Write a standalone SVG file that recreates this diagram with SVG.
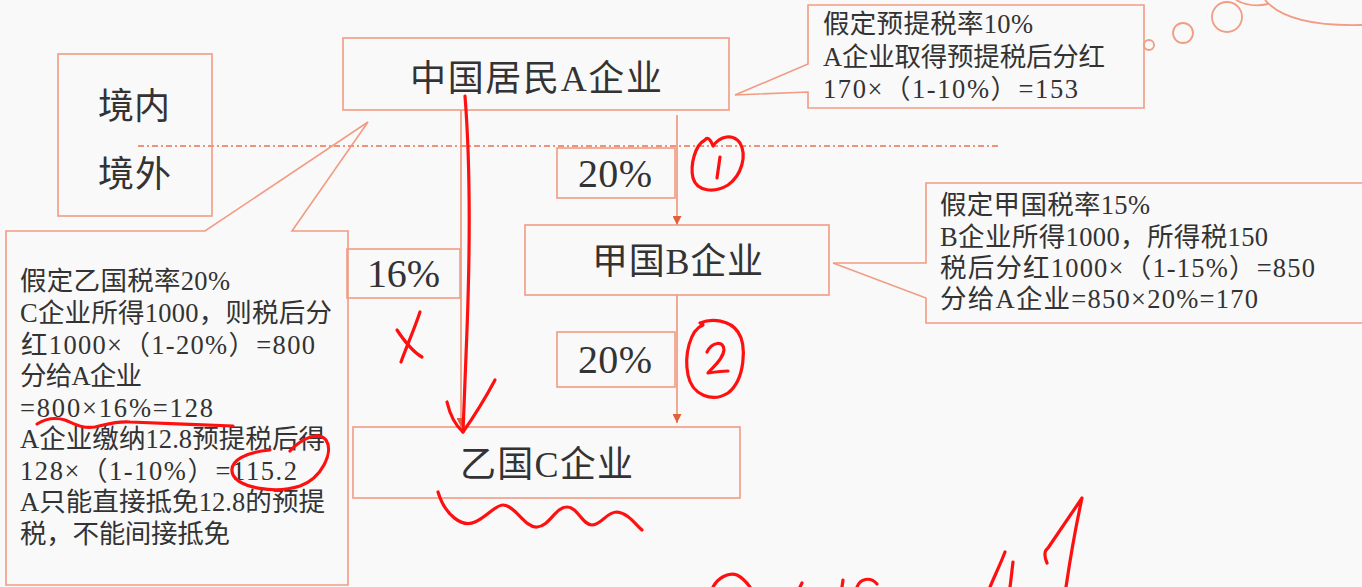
<svg xmlns="http://www.w3.org/2000/svg" width="1362" height="587" viewBox="0 0 1362 587">
<style>
.bx{fill:none;stroke:#f19c83;stroke-width:1.6}
.t{font-family:"Liberation Serif","Noto Sans CJK SC",serif;fill:#333}
.n{font-size:36px}
.p{font-size:40px}
.c{font-size:26.5px}
.conn{stroke:#ee8d70;stroke-width:1.5;fill:none}
.dash{stroke:#ef9378;stroke-width:1.8;stroke-dasharray:6 3 2 3;fill:none}
.pen{stroke:#ff1010;stroke-width:3.2;fill:none;stroke-linecap:round;stroke-linejoin:round}
</style>
<defs>
<marker id="ah" markerUnits="userSpaceOnUse" markerWidth="9" markerHeight="9" refX="9" refY="4.5" orient="auto">
<path d="M0,0 L9,4.5 L0,9 Z" fill="#e2603a"/>
</marker>
</defs>
<rect x="0" y="0" width="1362" height="587" fill="#f9f9f9"/>

<g id="connectors">
<line class="dash" x1="138" y1="146" x2="998" y2="146"/>
<line class="conn" x1="461" y1="110" x2="461" y2="427" marker-end="url(#ah)"/>
<line class="conn" x1="677" y1="115" x2="677" y2="225" marker-end="url(#ah)"/>
<line class="conn" x1="677" y1="295" x2="677" y2="423" marker-end="url(#ah)"/>
</g>

<g id="region">
<rect class="bx" x="58" y="54" width="154" height="162"/>
<text class="t n" x="98" y="119" textLength="72">境内</text>
<text class="t n" x="98" y="187" textLength="73">境外</text>
</g>

<g id="nodeA">
<rect class="bx" x="343" y="38" width="386" height="72"/>
<text class="t n" x="410" y="91" textLength="252">中国居民A企业</text>
</g>

<g id="nodeB">
<rect class="bx" x="525" y="225" width="304" height="70"/>
<text class="t n" x="592" y="274" textLength="171">甲国B企业</text>
</g>

<g id="nodeC">
<rect class="bx" x="353" y="427" width="387" height="71"/>
<text class="t n" x="460" y="477" textLength="173">乙国C企业</text>
</g>

<g id="label16">
<rect class="bx" x="347" y="249" width="113" height="49"/>
<text class="t p" x="367" y="287" textLength="73">16%</text>
</g>

<g id="label20a">
<rect class="bx" x="557" y="148" width="118" height="50"/>
<text class="t p" x="578" y="187" textLength="74">20%</text>
</g>

<g id="label20b">
<rect class="bx" x="557" y="332" width="118" height="55"/>
<text class="t p" x="578" y="373" textLength="74">20%</text>
</g>

<g id="noteA">
<path class="bx" d="M808,5 H1144 V108 H808 V92 L735,95 L808,64 Z"/>
<text class="t c" x="823" y="33" textLength="210">假定预提税率10%</text>
<text class="t c" x="823" y="66" textLength="282">A企业取得预提税后分红</text>
<text class="t c" x="823" y="98" textLength="255">170×（1-10%）=153</text>
</g>

<g id="noteB">
<path class="bx" d="M926,183 H1368 V323 H926 V298 L833,263 H926 Z"/>
<text class="t c" x="940" y="214" textLength="210">假定甲国税率15%</text>
<text class="t c" x="940" y="246" textLength="328">B企业所得1000，所得税150</text>
<text class="t c" x="940" y="277" textLength="375">税后分红1000×（1-15%）=850</text>
<text class="t c" x="940" y="308" textLength="318">分给A企业=850×20%=170</text>
</g>

<g id="noteC">
<path class="bx" d="M6,231 H205 L368,122 L292,231 H348 V585 H6 Z"/>
<text class="t c" x="20" y="290" textLength="210">假定乙国税率20%</text>
<text class="t c" x="20" y="322" textLength="312">C企业所得1000，则税后分</text>
<text class="t c" x="21" y="353.5" textLength="294">红1000×（1-20%）=800</text>
<text class="t c" x="20" y="385" textLength="122">分给A企业</text>
<text class="t c" x="20" y="416.5" textLength="193">=800×16%=128</text>
<text class="t c" x="20" y="448" textLength="305">A企业缴纳12.8预提税后得</text>
<text class="t c" x="20" y="479.5" textLength="277">128×（1-10%）=115.2</text>
<text class="t c" x="20" y="511" textLength="305">A只能直接抵免12.8的预提</text>
<text class="t c" x="20" y="543" textLength="210">税，不能间接抵免</text>
</g>

<g id="thought" fill="none" stroke="#f19c83" stroke-width="1.8">
<circle cx="1149" cy="45" r="5"/>
<circle cx="1183" cy="33" r="10"/>
<circle cx="1227" cy="17" r="15"/>
<path d="M1236,0 Q1250,8 1268,4"/>
<path d="M1265,0 Q1288,27 1362,25"/>
</g>

<g id="annotations">
<path class="pen" d="M465,96 C470,160 470,250 467,330 C465,380 464,410 463,432"/>
<path class="pen" d="M447,402 C450,415 455,425 463,432 C475,415 487,395 495,380"/>
<path class="pen" d="M705,140 C695,145 690,165 693,178 C697,192 715,193 728,185 C742,175 747,155 740,143 C733,133 720,136 713,146 C710,138 707,137 705,140"/>
<path class="pen" d="M720,157 L717,178"/>
<path class="pen" d="M703,325 C690,330 684,355 688,375 C692,395 712,403 728,393 C745,380 747,345 738,332 C730,320 712,318 700,323"/>
<path class="pen" d="M707,352 C712,342 724,340 724,350 C723,360 712,368 708,373 C715,372 722,371 728,371"/>
<path class="pen" d="M420,312 C414,330 406,348 401,362"/>
<path class="pen" d="M397,330 C405,342 413,352 422,357"/>
<path class="pen" d="M438,492 C445,515 462,528 475,522 C488,516 495,505 503,505 C515,505 525,528 537,527 C550,526 555,507 567,507 C578,507 582,525 592,525 C603,524 606,512 617,512 C628,513 635,524 642,530"/>
<path class="pen" d="M37,424 C45,419 55,417 65,420 C75,424 82,429 95,427 C105,425 115,421 130,422 C160,423 200,425 233,426"/>
<path class="pen" d="M290,451 C300,440 318,430 326,440 C334,452 322,478 300,486 C275,494 240,488 233,475 C227,460 248,452 270,450"/>
<path class="pen" d="M1047,563 C1044,556 1044,551 1048,548 L1082,498 C1075,530 1070,560 1066,587"/>
<path class="pen" d="M1005,552 C1000,565 995,575 990,587"/>
<path class="pen" d="M1013,562 C1012,570 1011,580 1010,587"/>
<path class="pen" d="M713,587 C718,578 728,572 737,575 C743,578 747,583 750,587"/>
<path class="pen" d="M802,583 L800,587"/>
<path class="pen" d="M843,580 L842,587"/>
<path class="pen" d="M857,587 C860,579 870,576 877,584"/>
</g>
</svg>
